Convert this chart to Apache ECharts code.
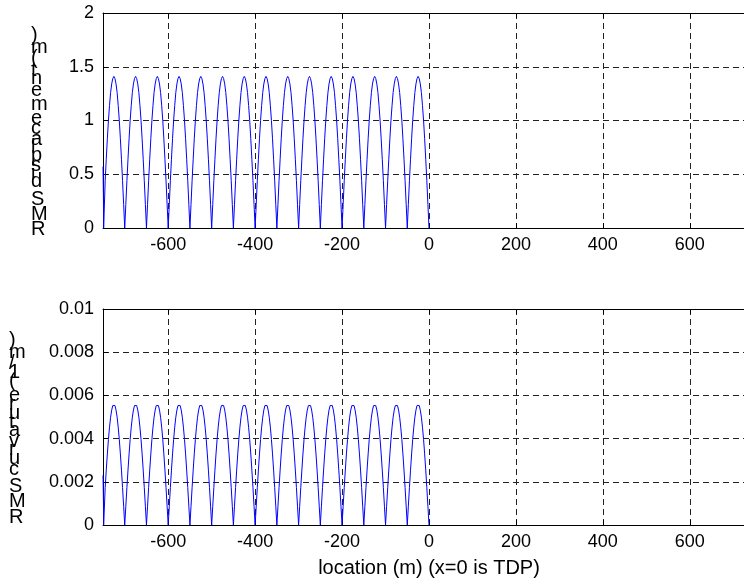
<!DOCTYPE html>
<html>
<head>
<meta charset="utf-8">
<title>RMS displacement and curvature along the pipeline</title>
<script src="https://cdn.jsdelivr.net/npm/echarts@6/dist/echarts.min.js"></script>
<style>
  html, body { margin: 0; padding: 0; background: #fff; overflow: hidden; width: 744px; height: 586px; }
  /* the plot boxes run slightly past the right edge of the page */
  #chart { width: 770px; height: 586px; }
</style>
</head>
<body>
<div id="chart"></div>
<script>
// Sample locations along the line (m), x = 0 is the touchdown point
const location_m = [
  -750, -749, -748.5, -745, -742.5, -740, -737.5, -735, -732.5, -730, -727.5, -725, -722.5, -720, -717.5, -715, -712.5, -710, -707.5, -705, -702.5,
  -700, -697.5, -695, -692.5, -690, -687.5, -685, -682.5, -680, -677.5, -675, -672.5, -670, -667.5, -665, -662.5, -660, -657.5, -655, -652.5,
  -650, -647.5, -645, -642.5, -640, -637.5, -635, -632.5, -630, -627.5, -625, -622.5, -620, -617.5, -615, -612.5, -610, -607.5, -605, -602.5,
  -600, -597.5, -595, -592.5, -590, -587.5, -585, -582.5, -580, -577.5, -575, -572.5, -570, -567.5, -565, -562.5, -560, -557.5, -555, -552.5,
  -550, -547.5, -545, -542.5, -540, -537.5, -535, -532.5, -530, -527.5, -525, -522.5, -520, -517.5, -515, -512.5, -510, -507.5, -505, -502.5,
  -500, -497.5, -495, -492.5, -490, -487.5, -485, -482.5, -480, -477.5, -475, -472.5, -470, -467.5, -465, -462.5, -460, -457.5, -455, -452.5,
  -450, -447.5, -445, -442.5, -440, -437.5, -435, -432.5, -430, -427.5, -425, -422.5, -420, -417.5, -415, -412.5, -410, -407.5, -405, -402.5,
  -400, -397.5, -395, -392.5, -390, -387.5, -385, -382.5, -380, -377.5, -375, -372.5, -370, -367.5, -365, -362.5, -360, -357.5, -355, -352.5,
  -350, -347.5, -345, -342.5, -340, -337.5, -335, -332.5, -330, -327.5, -325, -322.5, -320, -317.5, -315, -312.5, -310, -307.5, -305, -302.5,
  -300, -297.5, -295, -292.5, -290, -287.5, -285, -282.5, -280, -277.5, -275, -272.5, -270, -267.5, -265, -262.5, -260, -257.5, -255, -252.5,
  -250, -247.5, -245, -242.5, -240, -237.5, -235, -232.5, -230, -227.5, -225, -222.5, -220, -217.5, -215, -212.5, -210, -207.5, -205, -202.5,
  -200, -197.5, -195, -192.5, -190, -187.5, -185, -182.5, -180, -177.5, -175, -172.5, -170, -167.5, -165, -162.5, -160, -157.5, -155, -152.5,
  -150, -147.5, -145, -142.5, -140, -137.5, -135, -132.5, -130, -127.5, -125, -122.5, -120, -117.5, -115, -112.5, -110, -107.5, -105, -102.5,
  -100, -97.5, -95, -92.5, -90, -87.5, -85, -82.5, -80, -77.5, -75, -72.5, -70, -67.5, -65, -62.5, -60, -57.5, -55, -52.5,
  -50, -47.5, -45, -42.5, -40, -37.5, -35, -32.5, -30, -27.5, -25, -22.5, -20, -17.5, -15, -12.5, -10, -7.5, -5, -2.5,
  0
];

// RMS displacement (m) at each location
const rmsDisplacement = [
  0.57, 0.28, 0, 0.44, 0.64, 0.83, 1.00, 1.14, 1.26, 1.34, 1.39, 1.41, 1.39, 1.34, 1.26, 1.14, 1.00, 0.83, 0.64, 0.44, 0.22,
  0, 0.22, 0.44, 0.64, 0.83, 1.00, 1.14, 1.26, 1.34, 1.39, 1.41, 1.39, 1.34, 1.26, 1.14, 1.00, 0.83, 0.64, 0.44, 0.22,
  0, 0.22, 0.44, 0.64, 0.83, 1.00, 1.14, 1.26, 1.34, 1.39, 1.41, 1.39, 1.34, 1.26, 1.14, 1.00, 0.83, 0.64, 0.44, 0.22,
  0, 0.22, 0.44, 0.64, 0.83, 1.00, 1.14, 1.26, 1.34, 1.39, 1.41, 1.39, 1.34, 1.26, 1.14, 1.00, 0.83, 0.64, 0.44, 0.22,
  0, 0.22, 0.44, 0.64, 0.83, 1.00, 1.14, 1.26, 1.34, 1.39, 1.41, 1.39, 1.34, 1.26, 1.14, 1.00, 0.83, 0.64, 0.44, 0.22,
  0, 0.22, 0.44, 0.64, 0.83, 1.00, 1.14, 1.26, 1.34, 1.39, 1.41, 1.39, 1.34, 1.26, 1.14, 1.00, 0.83, 0.64, 0.44, 0.22,
  0, 0.22, 0.44, 0.64, 0.83, 1.00, 1.14, 1.26, 1.34, 1.39, 1.41, 1.39, 1.34, 1.26, 1.14, 1.00, 0.83, 0.64, 0.44, 0.22,
  0, 0.22, 0.44, 0.64, 0.83, 1.00, 1.14, 1.26, 1.34, 1.39, 1.41, 1.39, 1.34, 1.26, 1.14, 1.00, 0.83, 0.64, 0.44, 0.22,
  0, 0.22, 0.44, 0.64, 0.83, 1.00, 1.14, 1.26, 1.34, 1.39, 1.41, 1.39, 1.34, 1.26, 1.14, 1.00, 0.83, 0.64, 0.44, 0.22,
  0, 0.22, 0.44, 0.64, 0.83, 1.00, 1.14, 1.26, 1.34, 1.39, 1.41, 1.39, 1.34, 1.26, 1.14, 1.00, 0.83, 0.64, 0.44, 0.22,
  0, 0.22, 0.44, 0.64, 0.83, 1.00, 1.14, 1.26, 1.34, 1.39, 1.41, 1.39, 1.34, 1.26, 1.14, 1.00, 0.83, 0.64, 0.44, 0.22,
  0, 0.22, 0.44, 0.64, 0.83, 1.00, 1.14, 1.26, 1.34, 1.39, 1.41, 1.39, 1.34, 1.26, 1.14, 1.00, 0.83, 0.64, 0.44, 0.22,
  0, 0.22, 0.44, 0.64, 0.83, 1.00, 1.14, 1.26, 1.34, 1.39, 1.41, 1.39, 1.34, 1.26, 1.14, 1.00, 0.83, 0.64, 0.44, 0.22,
  0, 0.22, 0.44, 0.64, 0.83, 1.00, 1.14, 1.26, 1.34, 1.39, 1.41, 1.39, 1.34, 1.26, 1.14, 1.00, 0.83, 0.64, 0.44, 0.22,
  0, 0.22, 0.44, 0.64, 0.83, 1.00, 1.14, 1.26, 1.34, 1.39, 1.41, 1.39, 1.34, 1.26, 1.14, 1.00, 0.83, 0.64, 0.44, 0.22,
  0
];

// RMS curvature (1/m) at each location
const rmsCurvature = [
  0.0023, 0.0011, 0, 0.00173, 0.00254, 0.00329, 0.00396, 0.00453, 0.00499, 0.00532, 0.00553, 0.0056, 0.00553, 0.00532, 0.00499, 0.00453, 0.00396, 0.00329, 0.00254, 0.00173, 0.00087,
  0, 0.00087, 0.00173, 0.00254, 0.00329, 0.00396, 0.00453, 0.00499, 0.00532, 0.00553, 0.0056, 0.00553, 0.00532, 0.00499, 0.00453, 0.00396, 0.00329, 0.00254, 0.00173, 0.00087,
  0, 0.00087, 0.00173, 0.00254, 0.00329, 0.00396, 0.00453, 0.00499, 0.00532, 0.00553, 0.0056, 0.00553, 0.00532, 0.00499, 0.00453, 0.00396, 0.00329, 0.00254, 0.00173, 0.00087,
  0, 0.00087, 0.00173, 0.00254, 0.00329, 0.00396, 0.00453, 0.00499, 0.00532, 0.00553, 0.0056, 0.00553, 0.00532, 0.00499, 0.00453, 0.00396, 0.00329, 0.00254, 0.00173, 0.00087,
  0, 0.00087, 0.00173, 0.00254, 0.00329, 0.00396, 0.00453, 0.00499, 0.00532, 0.00553, 0.0056, 0.00553, 0.00532, 0.00499, 0.00453, 0.00396, 0.00329, 0.00254, 0.00173, 0.00087,
  0, 0.00087, 0.00173, 0.00254, 0.00329, 0.00396, 0.00453, 0.00499, 0.00532, 0.00553, 0.0056, 0.00553, 0.00532, 0.00499, 0.00453, 0.00396, 0.00329, 0.00254, 0.00173, 0.00087,
  0, 0.00087, 0.00173, 0.00254, 0.00329, 0.00396, 0.00453, 0.00499, 0.00532, 0.00553, 0.0056, 0.00553, 0.00532, 0.00499, 0.00453, 0.00396, 0.00329, 0.00254, 0.00173, 0.00087,
  0, 0.00087, 0.00173, 0.00254, 0.00329, 0.00396, 0.00453, 0.00499, 0.00532, 0.00553, 0.0056, 0.00553, 0.00532, 0.00499, 0.00453, 0.00396, 0.00329, 0.00254, 0.00173, 0.00087,
  0, 0.00087, 0.00173, 0.00254, 0.00329, 0.00396, 0.00453, 0.00499, 0.00532, 0.00553, 0.0056, 0.00553, 0.00532, 0.00499, 0.00453, 0.00396, 0.00329, 0.00254, 0.00173, 0.00087,
  0, 0.00087, 0.00173, 0.00254, 0.00329, 0.00396, 0.00453, 0.00499, 0.00532, 0.00553, 0.0056, 0.00553, 0.00532, 0.00499, 0.00453, 0.00396, 0.00329, 0.00254, 0.00173, 0.00087,
  0, 0.00087, 0.00173, 0.00254, 0.00329, 0.00396, 0.00453, 0.00499, 0.00532, 0.00553, 0.0056, 0.00553, 0.00532, 0.00499, 0.00453, 0.00396, 0.00329, 0.00254, 0.00173, 0.00087,
  0, 0.00087, 0.00173, 0.00254, 0.00329, 0.00396, 0.00453, 0.00499, 0.00532, 0.00553, 0.0056, 0.00553, 0.00532, 0.00499, 0.00453, 0.00396, 0.00329, 0.00254, 0.00173, 0.00087,
  0, 0.00087, 0.00173, 0.00254, 0.00329, 0.00396, 0.00453, 0.00499, 0.00532, 0.00553, 0.0056, 0.00553, 0.00532, 0.00499, 0.00453, 0.00396, 0.00329, 0.00254, 0.00173, 0.00087,
  0, 0.00087, 0.00173, 0.00254, 0.00329, 0.00396, 0.00453, 0.00499, 0.00532, 0.00553, 0.0056, 0.00553, 0.00532, 0.00499, 0.00453, 0.00396, 0.00329, 0.00254, 0.00173, 0.00087,
  0, 0.00087, 0.00173, 0.00254, 0.00329, 0.00396, 0.00453, 0.00499, 0.00532, 0.00553, 0.0056, 0.00553, 0.00532, 0.00499, 0.00453, 0.00396, 0.00329, 0.00254, 0.00173, 0.00087,
  0
];

// Axis ranges, labelled ticks and axis titles
const xRange = [-750, 750];
const xTickLabels = [-600, -400, -200, 0, 200, 400, 600];
const dispRange = [0, 2, 0.5];
const curvRange = [0, 0.01, 0.002];
const xTitle = 'location (m) (x=0 is TDP)';
const dispTitle = 'RMS displacement (m)';
const curvTitle = 'RMS curvature (1/m)';

const FONT = 'Liberation Sans, Arial, sans-serif';
const tickFont = { fontFamily: FONT, fontSize: 18, color: '#000' };
const dash = { color: '#222', width: 1, type: [6, 4] };

// plot boxes; titleX is where the y title column starts, clear of the widest tick label
const boxes = [
  { left: 103, top: 13, width: 652, height: 215, titleX: 31 },
  { left: 103, top: 309, width: 652, height: 216, titleX: 9 }
];

// Y titles: upright glyphs stacked bottom-to-top, each one advancing by its own width
const measureCtx = document.createElement('canvas').getContext('2d');
measureCtx.font = '20.2px Liberation Sans';
function stackedTitle(title, box) {
  const chars = title.split('').reverse();
  const rich = {};
  let total = 0;
  const parts = chars.map((ch, i) => {
    const h = Math.max(4, measureCtx.measureText(ch).width);
    total += h;
    rich['c' + i] = { lineHeight: h, fontSize: 20, fontFamily: FONT, color: '#000', align: 'left' };
    return '{c' + i + '|' + (ch === ' ' ? '\u00a0' : ch) + '}';
  });
  const centerY = box.top + box.height / 2 + 14;
  return {
    type: 'text', x: box.titleX, y: centerY - total / 2, silent: true,
    style: { text: parts.join('\n'), rich, align: 'left', verticalAlign: 'top', fill: '#000' }
  };
}

function bottomXAxis(gridIndex, name) {
  return {
    type: 'value', gridIndex, position: 'bottom',
    min: xRange[0], max: xRange[1], splitNumber: 7,
    name: name || '', nameLocation: 'middle', nameGap: 33,
    nameTextStyle: { fontFamily: FONT, fontSize: 20, color: '#000' },
    axisLine: { show: true, onZero: false, lineStyle: { color: '#000', width: 1 } },
    axisTick: { show: true, inside: true, length: 5, lineStyle: { color: '#000' } },
    axisLabel: Object.assign({
      margin: 8,
      showMinLabel: false, showMaxLabel: false,
      formatter: v => (xTickLabels.indexOf(v) >= 0 ? String(v) : '')
    }, tickFont),
    splitLine: { show: true, lineStyle: dash }
  };
}
function topXAxis(gridIndex) {
  return {
    type: 'value', gridIndex, position: 'top',
    min: xRange[0], max: xRange[1], splitNumber: 7,
    axisLine: { show: true, onZero: false, lineStyle: { color: '#000', width: 1 } },
    axisTick: { show: true, inside: true, length: 5, lineStyle: { color: '#000' } },
    axisLabel: { show: false },
    splitLine: { show: false }
  };
}
function leftYAxis(gridIndex, range) {
  return {
    type: 'value', gridIndex,
    min: range[0], max: range[1], interval: range[2],
    axisLine: { show: true, onZero: false, lineStyle: { color: '#000', width: 1 } },
    axisTick: { show: true, inside: true, length: 5, lineStyle: { color: '#000' } },
    axisLabel: Object.assign({ margin: 9 }, tickFont),
    splitLine: { show: true, lineStyle: dash }
  };
}

const pairs = ys => location_m.map((x, i) => [x, ys[i]]);

const chart = echarts.init(document.getElementById('chart'), null, { renderer: 'canvas' });
chart.setOption({
  animation: false,
  backgroundColor: '#fff',
  grid: boxes.map(b => ({ left: b.left, top: b.top, width: b.width, height: b.height, containLabel: false })),
  xAxis: [
    bottomXAxis(0),
    topXAxis(0),
    bottomXAxis(1, xTitle),
    topXAxis(1)
  ],
  yAxis: [
    leftYAxis(0, dispRange),
    leftYAxis(1, curvRange)
  ],
  graphic: [
    stackedTitle(dispTitle, boxes[0]),
    stackedTitle(curvTitle, boxes[1])
  ],
  series: [
    {
      type: 'line', xAxisIndex: 0, yAxisIndex: 0,
      data: pairs(rmsDisplacement),
      showSymbol: false, symbol: 'none',
      lineStyle: { color: '#0000ff', width: 1 }
    },
    {
      type: 'line', xAxisIndex: 2, yAxisIndex: 1,
      data: pairs(rmsCurvature),
      showSymbol: false, symbol: 'none',
      lineStyle: { color: '#0000ff', width: 1 }
    }
  ]
});
</script>
</body>
</html>
